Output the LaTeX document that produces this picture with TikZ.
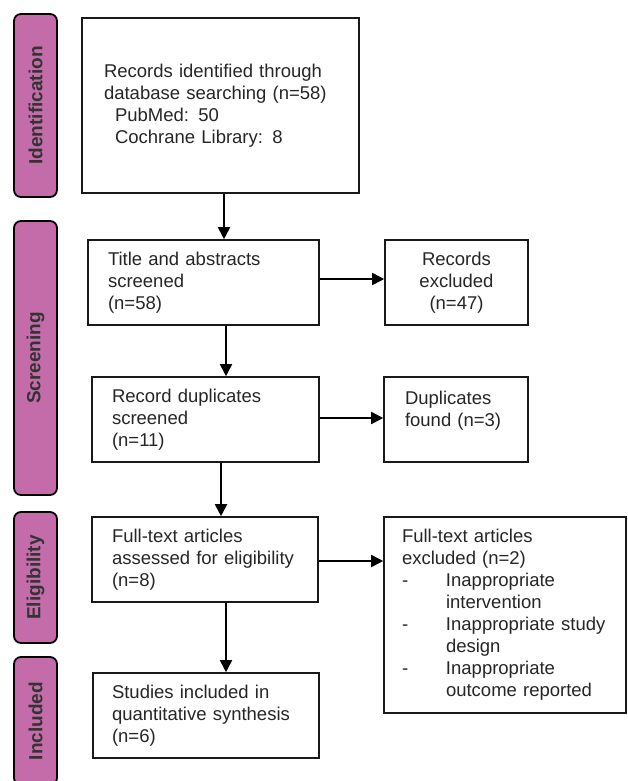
\documentclass[tikz,border=0pt]{standalone}
\usepackage{fontspec}
\setmainfont{Liberation Sans}
\usetikzlibrary{arrows.meta}
\definecolor{stagepink}{RGB}{196,108,170}
\tikzset{
	box/.style={draw=black!90, line width=1.6pt, fill=white, align=left,
	  inner ysep=0pt, minimum height=85pt,
	  font=\fontsize{18.5}{22}\selectfont, text=black!85},
	stage/.style={draw=black, line width=1.8pt, fill=stagepink,
	  rounded corners=7pt, rotate=90, minimum height=43pt, inner sep=0pt,
	  font=\fontsize{19}{22}\selectfont\bfseries, text=black!80},
	arrow/.style={line width=1.8pt, -{Triangle[length=12pt,width=12pt]}}
}
\begin{document}
\begin{tikzpicture}[x=1pt,y=-1pt]
	\useasboundingbox (0,0) rectangle (627,781);
	\node[stage, minimum width=183pt] (ident) at (35.5,105.5) {Identification};
	\node[stage, minimum width=274pt] (screen) at (35.5,358) {Screening};
	\node[stage, minimum width=131pt] (elig) at (35.5,577.5) {Eligibility};
	\node[stage, minimum width=128pt] (incl) at (35.5,721) {Included};

	\node[box, minimum width=277pt, minimum height=175pt, inner xsep=22pt, text width=233pt]
	  (records) at (220.5,105.5)
	  {Records identified through\\database searching (n=58)\\
	   \hspace*{11pt}PubMed: 50\\\hspace*{11pt}Cochrane Library: 8};
	\node[box, minimum width=231pt, inner xsep=20pt, text width=191pt]
	  (title) at (203.5,282.5) {Title and abstracts\\screened\\(n=58)};
	\node[box, minimum width=143pt, align=center]
	  (excl1) at (456.5,282.5) {Records\\excluded\\(n=47)};
	\node[box, minimum width=227pt, inner xsep=20pt, text width=187pt]
	  (dup) at (205.5,419.5) {Record duplicates\\screened\\(n=11)};
	\node[box, minimum width=144pt, inner xsep=21pt, text width=102pt]
	  (found) at (456,419.5) {Duplicates\\found (n=3)\\~};
	\node[box, minimum width=226pt, inner xsep=20pt, text width=186pt]
	  (full) at (205,559.5) {Full-text articles\\assessed for eligibility\\(n=8)};
	\node[box, minimum width=242pt, minimum height=196pt, inner xsep=18pt, text width=206pt]
	  (excl2) at (505,615)
	  {Full-text articles\\excluded (n=2)\\
	   \makebox[44pt][l]{-}Inappropriate\\\hspace*{44pt}intervention\\
	   \makebox[44pt][l]{-}Inappropriate study\\\hspace*{44pt}design\\
	   \makebox[44pt][l]{-}Inappropriate\\\hspace*{44pt}outcome reported};
	\node[box, minimum width=226pt, inner xsep=19pt, text width=188pt]
	  (studies) at (206,715.5) {Studies included in\\quantitative synthesis\\(n=6)};

	\draw[arrow] ([xshift=3.5pt]records.south) -- ([xshift=3.5pt]records.south |- title.north);
	\draw[arrow] ([yshift=3.5pt]title.east) -- ([yshift=3.5pt]title.east -| excl1.west);
	\draw[arrow] ([xshift=22.5pt]title.south) -- ([xshift=22.5pt]title.south |- dup.north);
	\draw[arrow] ([yshift=1.5pt]dup.east) -- ([yshift=1.5pt]dup.east -| found.west);
	\draw[arrow] ([xshift=15.5pt]dup.south) -- ([xshift=15.5pt]dup.south |- full.north);
	\draw[arrow] ([yshift=-1.5pt]full.east) -- ([yshift=-1.5pt]full.east -| excl2.west);
	\draw[arrow] ([xshift=21pt]full.south) -- ([xshift=21pt]full.south |- studies.north);
\end{tikzpicture}
\end{document}
